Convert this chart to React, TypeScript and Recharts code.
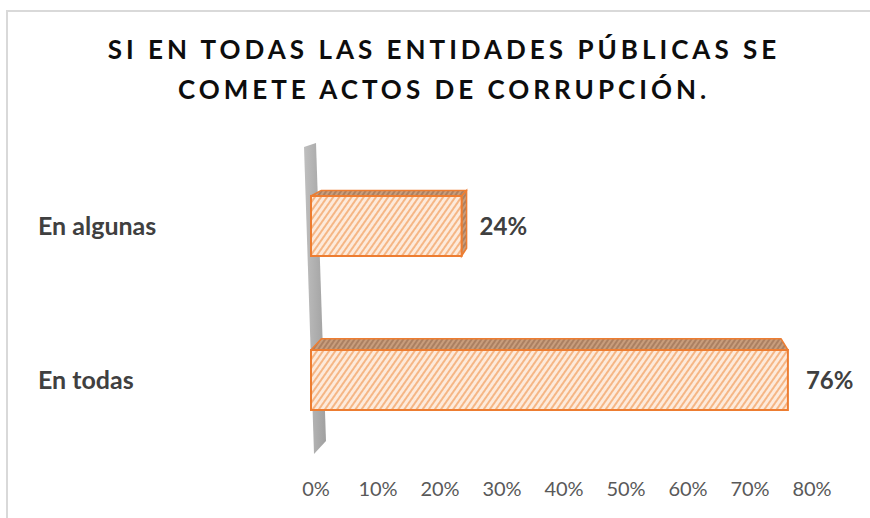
import React from 'react';
import { BarChart, Bar, XAxis, YAxis, LabelList, ReferenceArea } from 'recharts';

const categories = ['En algunas', 'En todas'];
const shares = [0.24, 0.76];
const xTicks = [0, 0.1, 0.2, 0.3, 0.4, 0.5, 0.6, 0.7, 0.8];

const data = categories.map((name, i) => ({ name, value: shares[i] }));

const FONT = 'Lato, "Open Sans", sans-serif';

// fake perspective: back edge of each bar pulled toward this point
const EYE_X = 600;
const EYE_Y = 40;
const DEPTH = 0.036;

const back = (px: number, py: number) => [px + (EYE_X - px) * DEPTH, py + (EYE_Y - py) * DEPTH];

const Bar3D = (props: any) => {
  const { x, y, width, height } = props;
  const x2 = x + width;
  const [blx, bly] = back(x, y);
  const [brx, bry] = back(x2, y);
  const [, bby] = back(x2, y + height);
  const showSide = brx > x2;
  return (
    <g>
      <polygon
        points={`${x},${y} ${x2},${y} ${brx},${bry} ${blx},${bly}`}
        fill="url(#hatchTop)"
        stroke="#ED7D31"
        strokeWidth={1.5}
        strokeLinejoin="round"
      />
      {showSide && (
        <polygon
          points={`${x2},${y} ${brx},${bry} ${brx},${bby} ${x2},${y + height}`}
          fill="url(#hatchTop)"
          stroke="#ED7D31"
          strokeWidth={1.5}
        />
      )}
      <rect x={x} y={y} width={width} height={height} fill="url(#hatchFront)" stroke="#ED7D31" strokeWidth={2} />
    </g>
  );
};

const Wall = (props: any) => {
  const { x, y, height } = props;
  const pts = `${x - 7},${y - 2} ${x + 5},${y - 6} ${x + 15},${y + height - 16} ${x + 3},${y + height - 3}`;
  return <polygon points={pts} fill="url(#wallGrad)" />;
};

const CategoryTick = (props: any) => {
  const { y, payload } = props;
  return (
    <text x={38} y={y} dy="0.35em" textAnchor="start" fontSize={25} fontWeight="bold" fill="#404040" fontFamily={FONT}>
      {payload.value}
    </text>
  );
};

// tick labels in the original sit a little tighter than the bar scale
const PercentTick = (props: any) => {
  const { x, y, payload } = props;
  const xx = 316 + (x - 311) * (496 / 502);
  return (
    <text x={xx} y={y} dy="0.71em" textAnchor="middle" fontSize={20} fill="#595959" fontFamily={FONT}>
      {Math.round(payload.value * 100) + '%'}
    </text>
  );
};

export default function App() {
  return (
    <div style={{ position: 'absolute', left: 0, top: 0, width: 870, height: 518, background: '#fff', overflow: 'hidden' }}>
      <div style={{ position: 'absolute', left: 7, top: 10, width: 863, height: 2, background: '#D9D9D9' }} />
      <div style={{ position: 'absolute', left: 6, top: 10, width: 2, height: 508, background: '#D9D9D9' }} />
      <div
        style={{
          position: 'absolute',
          left: 0,
          top: 29,
          width: 888,
          textAlign: 'center',
          fontFamily: FONT,
          fontWeight: 'bold',
          fontSize: 26,
          letterSpacing: 4,
          lineHeight: '40px',
          color: '#0D0D0D',
        }}
      >
        <div>SI EN TODAS LAS ENTIDADES PÚBLICAS SE</div>
        <div>COMETE ACTOS DE CORRUPCIÓN.</div>
      </div>
      <div style={{ position: 'absolute', left: 0, top: 0 }}>
        <BarChart
          width={870}
          height={518}
          data={data}
          layout="vertical"
          margin={{ top: 149, right: 57, bottom: 0, left: 0 }}
          barSize={60}
        >
          <defs>
            <pattern id="hatchFront" width="5" height="5" patternUnits="userSpaceOnUse" patternTransform="rotate(35)">
              <rect width="5" height="5" fill="#FDEADB" />
              <line x1="1" y1="0" x2="1" y2="5" stroke="#F3A96F" strokeWidth="1.6" />
            </pattern>
            <pattern id="hatchTop" width="4" height="4" patternUnits="userSpaceOnUse" patternTransform="rotate(35)">
              <rect width="4" height="4" fill="#C89D7C" />
              <line x1="1" y1="0" x2="1" y2="4" stroke="#9E7457" strokeWidth="1.4" />
            </pattern>
            <linearGradient id="wallGrad" x1="0" y1="0" x2="1" y2="0">
              <stop offset="0%" stopColor="#BFBFBF" />
              <stop offset="100%" stopColor="#A0A0A0" />
            </linearGradient>
          </defs>
          <XAxis
            type="number"
            domain={[0, 0.8]}
            ticks={xTicks}
            height={61}
            axisLine={false}
            tickLine={false}
            tickSize={0}
            tickMargin={25}
            tick={<PercentTick />}
            interval={0}
          />
          <YAxis
            type="category"
            dataKey="name"
            width={311}
            axisLine={false}
            tickLine={false}
            tick={<CategoryTick />}
          />
          <ReferenceArea x1={0} x2={0.02} shape={<Wall />} ifOverflow="visible" />
          <Bar dataKey="value" shape={<Bar3D />} isAnimationActive={false}>
            <LabelList
              dataKey="value"
              position="right"
              offset={18}
              fontSize={24}
              fontWeight="bold"
              fill="#404040"
              fontFamily={FONT}
              formatter={(v: number) => Math.round(v * 100) + '%'}
            />
          </Bar>
        </BarChart>
      </div>
    </div>
  );
}
